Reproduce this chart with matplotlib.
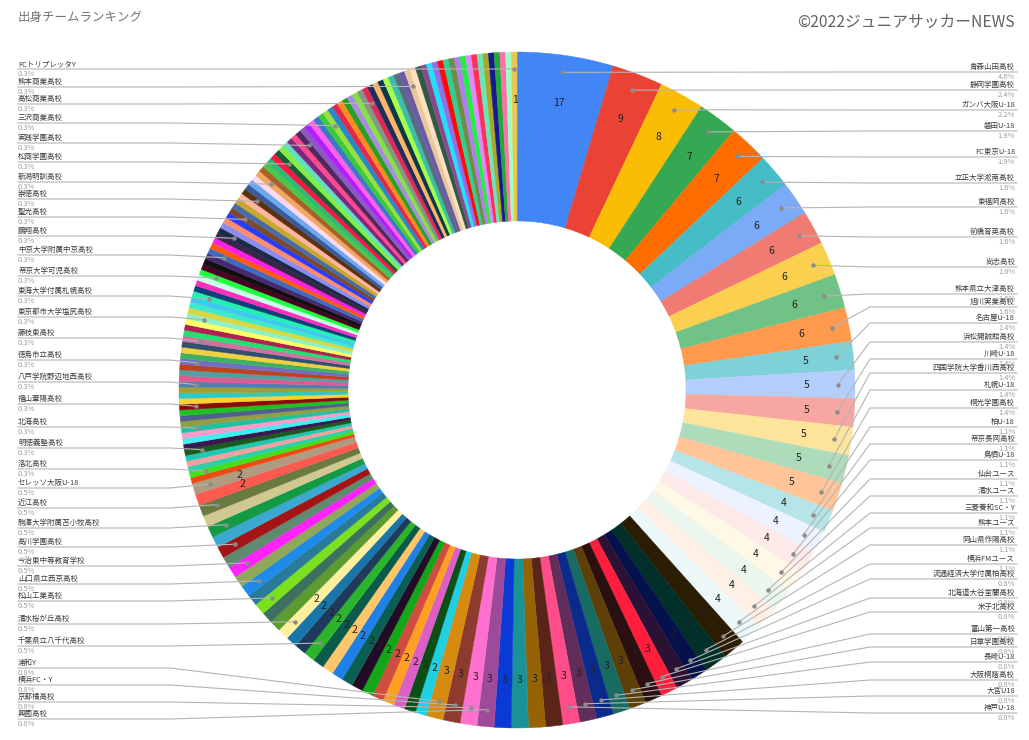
import numpy as np
import matplotlib.pyplot as plt

plt.rcParams['font.family'] = ['Noto Sans CJK JP', 'DejaVu Sans']

# players per team, clockwise from 12 o'clock
values = [17, 9, 8, 7, 7,
          6, 6, 6, 6, 6, 6,
          5, 5, 5, 5, 5, 5,
          4, 4, 4, 4, 4, 4, 4, 4, 4,
          3, 3, 3, 3, 3, 3, 3, 3, 3, 3, 3, 3, 3, 3, 3, 3, 3,
          2, 2, 2, 2, 2, 2, 2, 2, 2, 2, 2, 2, 2, 2, 2,
          2, 2, 2, 2, 2, 2, 2, 2, 2, 2, 2, 2, 2, 2, 2,
          1, 1, 1, 1, 1, 1, 1, 1, 1, 1, 1, 1, 1, 1, 1, 1, 1, 1, 1, 1,
          1, 1, 1, 1, 1, 1, 1, 1, 1, 1, 1, 1, 1, 1, 1, 1, 1, 1, 1, 1,
          1, 1, 1, 1, 1, 1, 1, 1, 1, 1, 1, 1, 1, 1, 1, 1, 1, 1, 1, 1,
          1, 1, 1, 1, 1, 1, 1, 1, 1, 1, 1, 1, 1, 1, 1, 1, 1, 1, 1, 1,
          1, 1, 1, 1, 1, 1, 1, 1, 1, 1, 1, 1, 1, 1, 1, 1, 1, 1, 1, 1,
          1, 1, 1, 1, 1, 1, 1, 1, 1]

# teams labelled on the right (slices 0..34)
right_names = ['青森山田高校', '静岡学園高校', 'ガンバ大阪U-18', '磐田U-18', 'FC東京U-18',
               '立正大学淞南高校', '東福岡高校', '前橋育英高校', '尚志高校', '熊本県立大津高校',
               '旭川実業高校', '名古屋U-18', '浜松開誠館高校', '川崎U-18', '四国学院大学香川西高校',
               '札幌U-18', '桐光学園高校', '柏U-18', '帝京長岡高校', '鳥栖U-18',
               '仙台ユース', '清水ユース', '三菱養和SC・Y', '熊本ユース', '岡山県作陽高校',
               '横浜FMユース', '流通経済大学付属柏高校', '北海道大谷室蘭高校', '米子北高校', '富山第一高校',
               '日章学園高校', '長崎U-18', '大阪桐蔭高校', '大宮U18', '神戸U-18']

# teams labelled on the left, top to bottom, with their slice number
left_names = ['FCトリプレッタY', '熊本商業高校', '高松商業高校', '三沢商業高校', '実践学園高校',
              '松商学園高校', '新潟明訓高校', '崇徳高校', '聖光高校', '鵬翔高校',
              '中京大学附属中京高校', '帝京大学可児高校', '東海大学付属札幌高校', '東京都市大学塩尻高校', '藤枝東高校',
              '徳島市立高校', '八戸学院野辺地西高校', '福山葦陽高校', '北海高校', '明徳義塾高校',
              '洛北高校', 'セレッソ大阪U-18', '近江高校', '駒澤大学附属苫小牧高校', '高川学園高校',
              '今治東中等教育学校', '山口県立西京高校', '松山工業高校', '清水桜が丘高校', '千葉県立八千代高校',
              '浦和Y', '横浜FC・Y', '京都橘高校', '興國高校']
left_idx = [181, 162, 154, 146, 140, 135, 130, 126, 122, 118,
            114, 110, 106, 102, 98, 94, 90, 86, 82, 78,
            74, 72, 70, 68, 66, 64, 62, 60, 57, 54,
            42, 41, 40, 39]

# label rows (pixel y of the rule under each name)
right_line_y = [72, 90, 110, 131, 157, 183, 207, 237, 267, 294,
                307, 323, 342, 359, 373, 390, 408, 427, 444, 460,
                479, 496, 513, 528, 545, 564, 579, 598, 612, 634,
                647, 662, 680, 696, 713]
left_line_y = [69, 87, 104, 123, 143, 162, 182, 199, 217, 236,
               255, 276, 296, 317, 338, 360, 382, 404, 427, 448,
               469, 488, 508, 528, 547, 566, 584, 601, 624, 646,
               668, 685, 702, 719]

# slices whose value is printed inside the ring
shown_values = list(range(0, 58)) + [71, 72, 181]

colors = ['#4285F4', '#EA4335', '#FBBC04', '#34A853', '#FF6D01', '#46BDC6', '#7BAAF7', '#F07B72',
          '#FCD04F', '#71C287', '#FF994D', '#7ED1D7', '#B3CEFB', '#F7A7A1', '#FDE49B', '#AEDCBA',
          '#FFC599', '#B5E5E8', '#ECF3FE', '#FDE9E8', '#FFF8E6', '#EAF6EE', '#FFF0E6', '#EDF8F9',
          '#2B1D03', '#01302A',
          '#04114A', '#2B1135', '#FF1F3D', '#2B1010', '#5D3F07', '#176B63', '#0A2A8C', '#612D5A',
          '#FF4D8A', '#5B2419', '#956305', '#1A9396', '#0A3AD6', '#9E4A9B', '#FF70CE', '#8C3B2E',
          '#D68A10',
          '#22CFE0', '#0B4F16', '#DB5FC6', '#FFA024', '#CF4C3E', '#13A718', '#210B26', '#0B5F52',
          '#1F80E8', '#FFC76A', '#0B5A4A', '#2BB52A', '#203A5C', '#1A75A8', '#FFF0A0', '#5C9B30',
          '#3E7060', '#7BE01E', '#2A7A9A', '#1F8AE8', '#8FA85A', '#FF22FF', '#5E8A70', '#A51414',
          '#3AA8D0', '#149A44', '#D0C890', '#6A7A40', '#FF5A50', '#B09A80',
          '#F04A14', '#44E01A', '#2BD0A8', '#F5A0A0', '#20C8B0', '#1A5A1A', '#3A1850', '#40F0F0',
          '#FF9ACB', '#20C0A0', '#90A040', '#4F6090', '#20C020', '#8B0A0A', '#FFD030', '#30C8C0',
          '#A0A030', '#5080B0',
          '#E05A90', '#50A0A0', '#C04020', '#7070C0', '#40B060', '#F0D040', '#305070', '#D070A0',
          '#22E070', '#B02050', '#FFFF66', '#90F0C8', '#D8D840', '#40E8D0', '#40C8F0', '#20F0B0',
          '#10407A', '#FF30C0', '#C8FFE8', '#20FF40', '#4A0020', '#101010', '#4A2870', '#3C6CC0',
          '#FF5A10', '#FF20E8', '#3A2448', '#1A2A48', '#8C8CF0', '#FF8C6A', '#2A3CFF', '#7A4A2A',
          '#4A6AA8', '#C8A82A', '#FFB4A0', '#5A3210', '#3A5A9A', '#6AA8F0', '#FFD8F0', '#F0A860',
          '#A8602A', '#48C848',
          '#30B878', '#FF1444', '#1A5A38', '#80F040', '#60E0C0', '#802880', '#FF4890', '#502860',
          '#8A5AC0', '#B41EFF', '#FF60E8', '#3C78C8', '#3CC83C', '#98E040', '#2888C8', '#E0284C',
          '#FF8A20', '#28A028', '#A88CE0', '#88E048', '#809A80', '#E0285A', '#1E2E5A', '#FFB468',
          '#0A3848', '#A8FF48', '#38C0A8', '#5A6A80', '#6A5AA8', '#E8C898', '#FFE0C0', '#2E5A48',
          '#8A4A8A', '#20E0FF', '#9070E8', '#FF0A0A', '#30D090', '#708A48', '#B080E8', '#20F040',
          '#E088FF', '#FF3058', '#68E8B8', '#A8A828', '#181890', '#20A838', '#FF70A8', '#A0FFC0',
          '#E8C850']

assert len(colors) == len(values)

W, H = 1029, 740


def py(y):
    # picture row -> data y
    return H - y


cx, cy = 517, py(390)
r_out, r_in = 338, 169

fig = plt.figure(figsize=(W / 100, H / 100), dpi=100)
ax = fig.add_axes([0, 0, 1, 1])
wedges, _ = ax.pie(values, colors=colors, startangle=90, counterclock=False,
                   radius=r_out, center=(cx, cy), wedgeprops=dict(width=r_out - r_in))
for w in wedges:
    w.set_edgecolor(w.get_facecolor())
    w.set_linewidth(0.3)

vals = np.array(values, dtype=float)
total = vals.sum()
mid = np.cumsum(vals) - vals / 2
theta = np.deg2rad(90 - 360 * mid / total)


def at(i, r):
    return cx + r * np.cos(theta[i]), cy + r * np.sin(theta[i])


for i in shown_values:
    x, y = at(i, 290)
    ax.text(x, y, str(values[i]), ha='center', va='center', fontsize=7.5, color='#222222')

line_c = '#b4b4b4'
dot_c = '#8c8c8c'
lab_fs = 5.4

# right side labels
for i, name in enumerate(right_names):
    dx, dy = at(i, 321)
    ly = py(right_line_y[i])
    ax.plot([dx, 870, 1017], [dy, ly, ly], color=line_c, lw=0.8, zorder=3)
    ax.plot(dx, dy, 'o', ms=2.2, color=dot_c, zorder=4)
    pct = '%.1f%%' % (values[i] / total * 100)
    ax.text(1015, ly + 1.0, name, ha='right', va='bottom', fontsize=lab_fs, color='#3c3c3c')
    ax.text(1015, ly - 1.0, pct, ha='right', va='top', fontsize=lab_fs, color='#9e9e9e')

# left side labels
for name, i, ly_img in zip(left_names, left_idx, left_line_y):
    dx, dy = at(i, 321)
    ly = py(ly_img)
    ax.plot([18, 170, dx], [ly, ly, dy], color=line_c, lw=0.8, zorder=3)
    ax.plot(dx, dy, 'o', ms=2.2, color=dot_c, zorder=4)
    pct = '%.1f%%' % (values[i] / total * 100)
    ax.text(18, ly + 1.0, name, ha='left', va='bottom', fontsize=lab_fs, color='#3c3c3c')
    ax.text(18, ly - 1.0, pct, ha='left', va='top', fontsize=lab_fs, color='#9e9e9e')

ax.text(18, py(18), '出身チームランキング', ha='left', va='center', fontsize=9, color='#757575')
ax.text(1015, py(22), '©2022ジュニアサッカーNEWS', ha='right', va='center', fontsize=11.3,
        color='#5f6368')

ax.set_xlim(0, W)
ax.set_ylim(0, H)
ax.set_aspect('equal')
ax.axis('off')

plt.savefig('out.png', dpi=100, facecolor='white')
